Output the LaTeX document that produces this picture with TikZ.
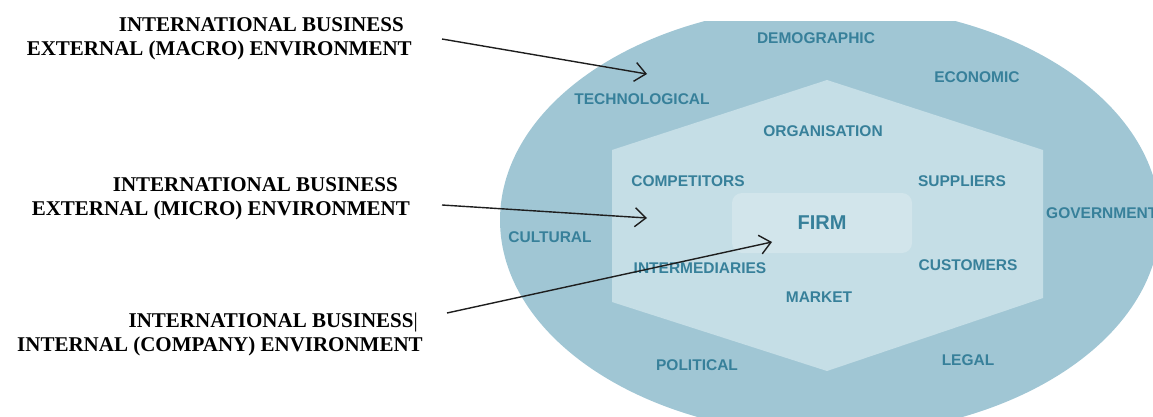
\documentclass[tikz,border=0pt]{standalone}
\usepackage{fontspec}
\setmainfont{Liberation Serif}
\newfontfamily\arialf{Liberation Sans}
\usetikzlibrary{arrows.meta}
\definecolor{outerc}{HTML}{A0C6D4}
\definecolor{hexc}{HTML}{C5DEE6}
\definecolor{firmc}{HTML}{D2E5EB}
\definecolor{txtc}{HTML}{37809A}
\definecolor{arrc}{HTML}{1E1E1E}
\begin{document}
\begin{tikzpicture}[x=1pt,y=-1pt,
  lbl/.style={font=\arialf\bfseries\fontsize{15.5}{18}\selectfont, text=txtc, inner sep=0pt},
  firmbox/.style={font=\arialf\bfseries\fontsize{20}{22}\selectfont, text=txtc, fill=firmc, rounded corners=10pt, minimum width=180pt, minimum height=60pt, inner sep=0pt},
  envlbl/.style={font=\bfseries\fontsize{21}{24}\selectfont, align=right, inner sep=0pt, anchor=east},
  pointer/.style={draw=arrc, line width=1.4pt, -{Straight Barb[length=11pt,width=19pt,line width=1.4pt]}}]
\useasboundingbox (0,0) rectangle (1153,417);
\begin{scope}
  \clip (0,22) rectangle (1153,417);
  \fill[outerc] (830,220) ellipse [x radius=330pt, y radius=215pt];
\end{scope}
\fill[hexc] (827,80) -- (1043,150) -- (1043,298) -- (827,371) -- (612,302) -- (612,150) -- cycle;
\node[firmbox] (firm) at (822,223) {FIRM};
% outer ring labels
\node[lbl] (demo) at (816,38) {DEMOGRAPHIC};
\node[lbl] (econ) at (977,77) {ECONOMIC};
\node[lbl] (tech) at (642,99) {TECHNOLOGICAL};
\node[lbl] (cult) at (550,237) {CULTURAL};
\node[lbl, anchor=west] (gov) at (1046,213) {GOVERNMENT};
\node[lbl] (pol) at (697,365) {POLITICAL};
\node[lbl] (legal) at (968,360) {LEGAL};
% hexagon labels
\node[lbl] (org) at (823,131) {ORGANISATION};
\node[lbl] (comp) at (688,181) {COMPETITORS};
\node[lbl] (supp) at (962,181) {SUPPLIERS};
\node[lbl] (inter) at (700,268) {INTERMEDIARIES};
\node[lbl] (cust) at (968,265) {CUSTOMERS};
\node[lbl] (market) at (819,297) {MARKET};
% left labels
\node[envlbl] (macro) at (412,39) {INTERNATIONAL BUSINESS\hspace*{8pt}\\EXTERNAL (MACRO) ENVIRONMENT};
\node[envlbl] (micro) at (410,199) {INTERNATIONAL BUSINESS\hspace*{12pt}\\EXTERNAL (MICRO) ENVIRONMENT};
\node[envlbl] (internal) at (423,334) {INTERNATIONAL BUSINESS{\mdseries|}\hspace*{5pt}\\INTERNAL (COMPANY) ENVIRONMENT};
% arrows
\coordinate (a1s) at (442,39);
\coordinate (a1e) at (647,74);
\coordinate (a2s) at (442,205);
\coordinate (a2e) at (647,218);
\coordinate (a3s) at (447,313);
\coordinate (a3e) at (772,242);
\draw[pointer] (a1s) -- (a1e);
\draw[pointer] (a2s) -- (a2e);
\draw[pointer] (a3s) -- (a3e);
\end{tikzpicture}
\end{document}
